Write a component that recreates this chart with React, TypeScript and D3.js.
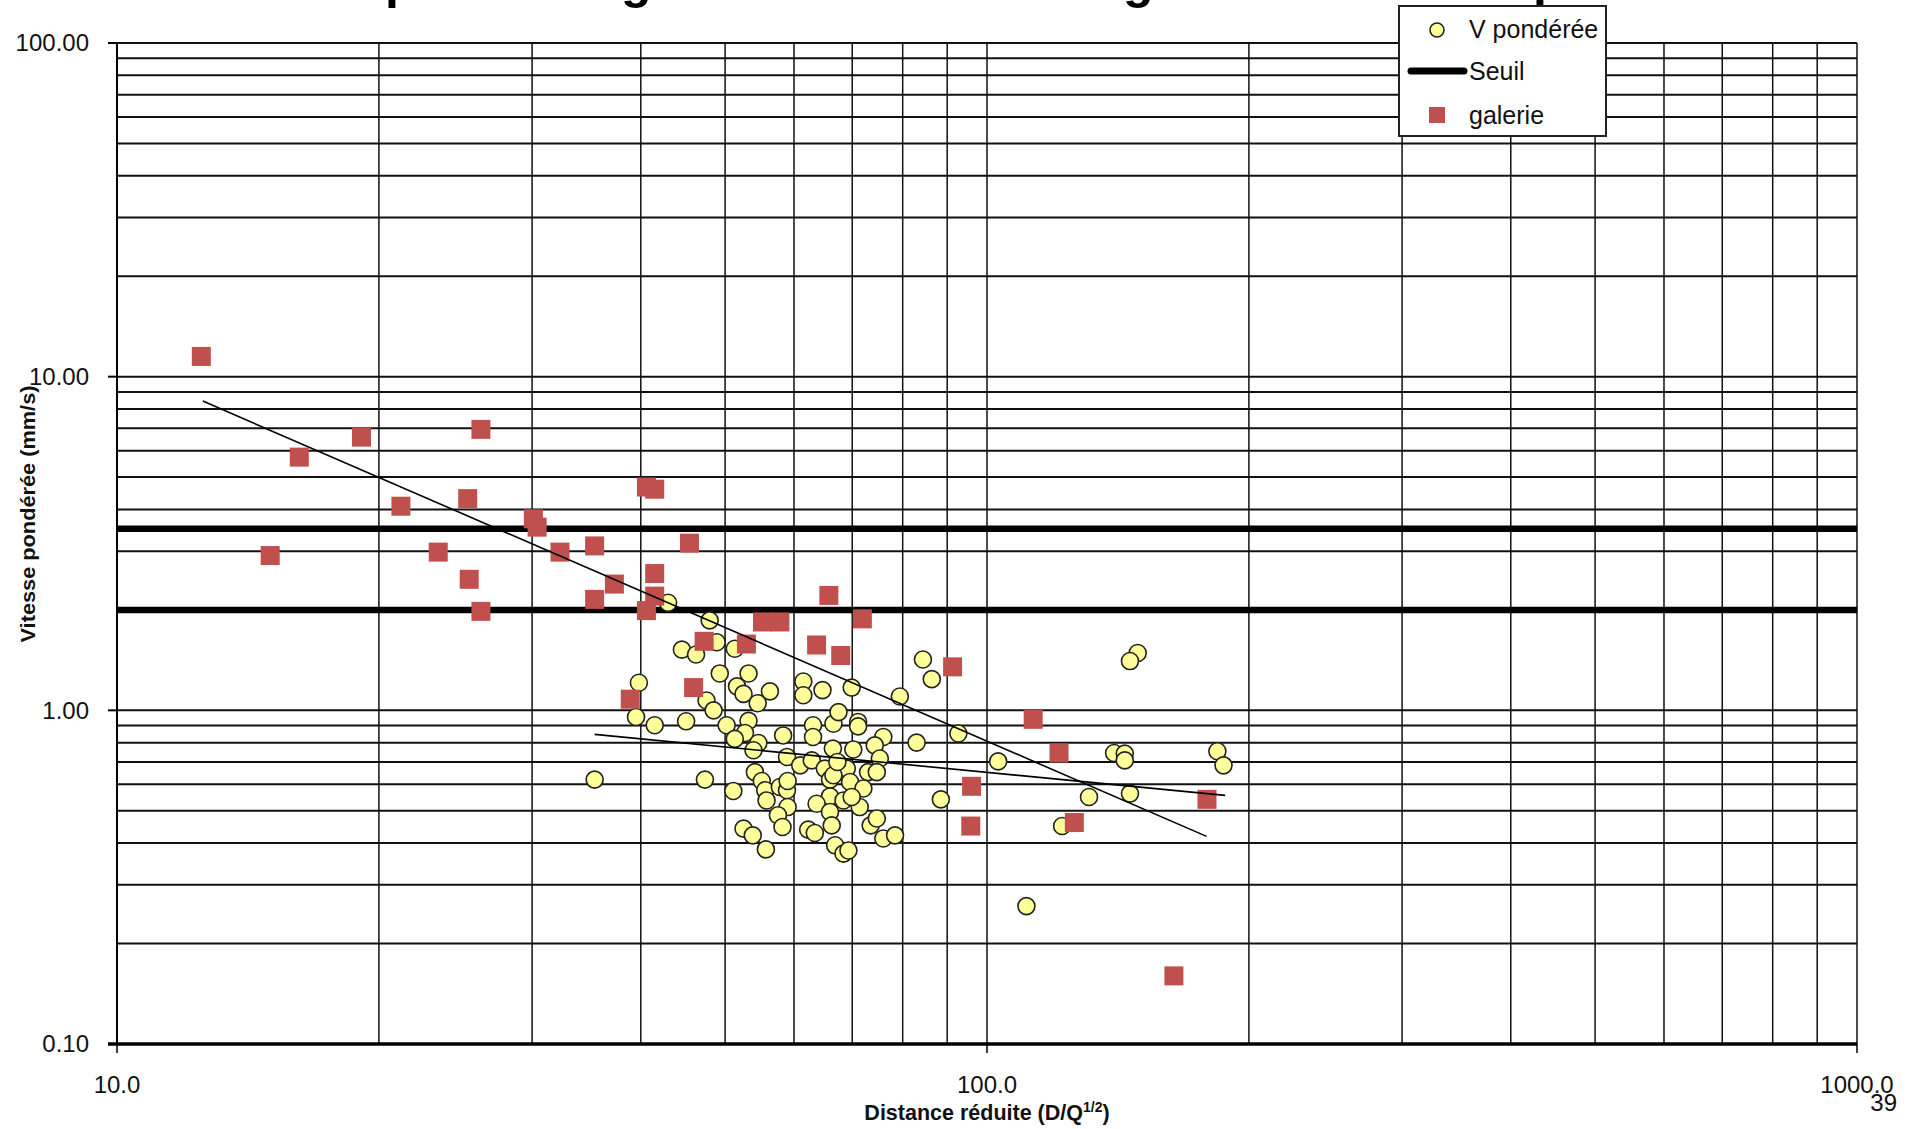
import React from "react";
import * as d3 from "d3";

// values (distance réduite, vitesse pondérée mm/s)
const vPonderee: [number, number][] = [
  [35.4, 0.62], [43.0, 2.1], [48.0, 1.86], [44.6, 1.52], [46.3, 1.47], [48.9, 1.6],
  [51.3, 1.53], [39.8, 1.21], [49.3, 1.29], [53.2, 1.29], [51.6, 1.18], [52.5, 1.12],
  [56.3, 1.14], [54.5, 1.05], [47.6, 1.07], [48.5, 1.0], [39.5, 0.955], [41.5, 0.902],
  [45.1, 0.927], [50.2, 0.902], [53.2, 0.93], [52.7, 0.855], [51.3, 0.821], [54.6, 0.798],
  [53.9, 0.759], [58.3, 0.841], [61.5, 1.22], [61.5, 1.11], [64.7, 1.15], [69.9, 1.17],
  [79.4, 1.1], [84.4, 1.42], [86.4, 1.24], [83.0, 0.8], [92.7, 0.852], [103, 0.703],
  [88.5, 0.541], [131, 0.55], [146, 0.563], [122, 0.45], [140, 0.745], [144, 0.742],
  [144, 0.708], [149, 1.485], [146, 1.405], [184, 0.754], [187, 0.684], [111, 0.259],
  [63.1, 0.902], [63.1, 0.832], [66.6, 0.912], [67.5, 0.988], [71.1, 0.923], [71.1, 0.895],
  [76.0, 0.832], [74.3, 0.785], [66.5, 0.768], [70.2, 0.763], [75.3, 0.717], [58.9, 0.725],
  [61.0, 0.684], [62.9, 0.708], [65.1, 0.669], [67.5, 0.692], [69.0, 0.669], [73.0, 0.653],
  [74.7, 0.653], [47.4, 0.62], [51.1, 0.573], [54.1, 0.653], [55.1, 0.614], [55.6, 0.576],
  [55.8, 0.537], [57.8, 0.589], [58.9, 0.576], [59.0, 0.614], [59.0, 0.513], [57.5, 0.485],
  [58.2, 0.447], [66.0, 0.62], [66.6, 0.639], [69.6, 0.61], [72.1, 0.583], [66.0, 0.552],
  [68.4, 0.537], [63.7, 0.525], [66.0, 0.496], [71.4, 0.513], [66.3, 0.452], [62.3, 0.439],
  [63.4, 0.429], [73.5, 0.452], [74.7, 0.474], [76.0, 0.413], [78.4, 0.422], [52.5, 0.442],
  [53.8, 0.422], [55.7, 0.383], [66.9, 0.394], [68.4, 0.372], [69.3, 0.38], [67.3, 0.7],
  [69.9, 0.55],
];

const galerie: [number, number][] = [
  [12.5, 11.5], [15.0, 2.91], [16.2, 5.74], [19.1, 6.59], [21.2, 4.09], [23.4, 2.98],
  [25.3, 4.31], [25.4, 2.47], [26.2, 6.95], [26.2, 1.98], [30.1, 3.75], [30.4, 3.54],
  [32.3, 2.98], [35.4, 3.11], [35.4, 2.15], [37.3, 2.39], [38.9, 1.08], [40.6, 4.67],
  [41.5, 4.6], [41.5, 2.57], [41.5, 2.2], [40.6, 1.99], [45.5, 3.17], [46.0, 1.17],
  [47.3, 1.61], [52.9, 1.58], [55.2, 1.84], [57.8, 1.84], [63.7, 1.57], [65.8, 2.21],
  [67.9, 1.46], [71.9, 1.88], [91.3, 1.35], [95.8, 0.45], [96.0, 0.592], [113, 0.94],
  [121, 0.745], [126, 0.461], [164, 0.16], [179, 0.541],
];

// power trend lines (straight in log-log), end points
const trendGalerie: [number, number][] = [[12.55, 8.45], [178.8, 0.419]];
const trendVPonderee: [number, number][] = [[35.4, 0.847], [187.8, 0.556]];

const seuils = [3.5, 2.0];

const xTickLabels = [10, 100, 1000];
const yTickLabels = [0.1, 1, 10, 100];

// title is cropped at the top of the slide, only descenders show
const titleWords: { text: string; x: number; anchor: string }[] = [
  { text: "Vitesse", x: 372, anchor: "end" },
  { text: "pondérée", x: 385, anchor: "start" },
  { text: "galerie – surface en", x: 621, anchor: "start" },
  { text: "grande distance", x: 1123, anchor: "start" },
  { text: "par tir", x: 1533, anchor: "start" },
];

const FONT = "'Liberation Sans', Arial, sans-serif";

export default function App() {
  const width = 1914;
  const height = 1129;
  const margin = { top: 43, right: 57, bottom: 85, left: 117 };

  const x = d3.scaleLog().domain([10, 1000]).range([margin.left, width - margin.right]);
  const y = d3.scaleLog().domain([0.1, 100]).range([height - margin.bottom, margin.top]);

  const [x0, x1] = x.range();
  const [y0, y1] = y.range();

  const line = d3
    .line<[number, number]>()
    .x((d) => x(d[0]))
    .y((d) => y(d[1]));

  return (
    <svg
      width={width}
      height={height}
      style={{ position: "absolute", left: 0, top: 0, background: "#fff" }}
      fontFamily={FONT}
    >
      {titleWords.map((w) => (
        <text key={w.text} x={w.x} y={-2.5} textAnchor={w.anchor} fontSize={50} fontWeight="bold" fill="#000">
          {w.text}
        </text>
      ))}

      {/* horizontal grid */}
      {y.ticks().map((t, i) => (
        <line key={"h" + i} x1={x0} x2={x1} y1={y(t)} y2={y(t)} stroke="#111" strokeWidth={2} />
      ))}
      {/* vertical grid */}
      {x.ticks().map((t, i) => (
        <line key={"v" + i} x1={x(t)} x2={x(t)} y1={y1} y2={y0} stroke="#111" strokeWidth={1.5} />
      ))}

      {/* axes */}
      <line x1={x0} x2={x0} y1={y1} y2={y0} stroke="#000" strokeWidth={2} />
      <line x1={x0 - 9} x2={x1} y1={y0} y2={y0} stroke="#000" strokeWidth={3.5} />
      {yTickLabels.map((t) => (
        <g key={"yt" + t}>
          <line x1={x0 - 9} x2={x0} y1={y(t)} y2={y(t)} stroke="#000" strokeWidth={2} />
          <text x={89} y={y(t)} dy="0.35em" textAnchor="end" fontSize={24} fill="#111">
            {t.toFixed(2)}
          </text>
        </g>
      ))}
      {xTickLabels.map((t) => (
        <g key={"xt" + t}>
          <line x1={x(t)} x2={x(t)} y1={y0} y2={y0 + 9} stroke="#000" strokeWidth={1.5} />
          <text x={x(t)} y={1093} textAnchor="middle" fontSize={24} fill="#111">
            {t.toFixed(1)}
          </text>
        </g>
      ))}

      {/* seuils */}
      {seuils.map((s) => (
        <line key={"s" + s} x1={x0} x2={x1} y1={y(s)} y2={y(s)} stroke="#000" strokeWidth={6.5} />
      ))}

      {/* V pondérée */}
      {vPonderee.map((d, i) => (
        <circle
          key={"c" + i}
          cx={x(d[0])}
          cy={y(d[1])}
          r={8.5}
          fill="#FFFF99"
          stroke="#222"
          strokeWidth={1.6}
        />
      ))}

      {/* galerie */}
      {galerie.map((d, i) => (
        <rect
          key={"r" + i}
          x={x(d[0]) - 9.5}
          y={y(d[1]) - 9.5}
          width={19}
          height={19}
          fill="#C0504D"
        />
      ))}

      {/* trend lines */}
      <path d={line(trendGalerie) || ""} fill="none" stroke="#000" strokeWidth={1.6} />
      <path d={line(trendVPonderee) || ""} fill="none" stroke="#000" strokeWidth={1.6} />

      {/* legend */}
      <g>
        <rect x={1399} y={6} width={207} height={130} fill="#fff" stroke="#222" strokeWidth={2} />
        <circle cx={1437} cy={30} r={7} fill="#FFFF99" stroke="#222" strokeWidth={1.6} />
        <text x={1469} y={38} fontSize={25} fill="#111">V pondérée</text>
        <line x1={1411} x2={1464} y1={71} y2={71} stroke="#000" strokeWidth={7} strokeLinecap="round" />
        <text x={1469} y={80} fontSize={25} fill="#111">Seuil</text>
        <rect x={1429} y={107} width={16} height={16} fill="#C0504D" />
        <text x={1469} y={124} fontSize={25} fill="#111">galerie</text>
      </g>

      {/* axis titles */}
      <text
        transform="translate(35,514) rotate(-90)"
        textAnchor="middle"
        fontSize={20}
        fontWeight="bold"
        fill="#111"
        textLength={257}
        lengthAdjust="spacingAndGlyphs"
      >
        Vitesse pondérée (mm/s)
      </text>
      <text x={(x0 + x1) / 2} y={1120} textAnchor="middle" fontSize={21.5} fontWeight="bold" fill="#111">
        Distance réduite (D/Q
        <tspan fontSize={14} dy={-8}>1/2</tspan>
        <tspan dy={8}>)</tspan>
      </text>

      {/* page number */}
      <text x={1897} y={1111} textAnchor="end" fontSize={24} fill="#111">39</text>
    </svg>
  );
}
